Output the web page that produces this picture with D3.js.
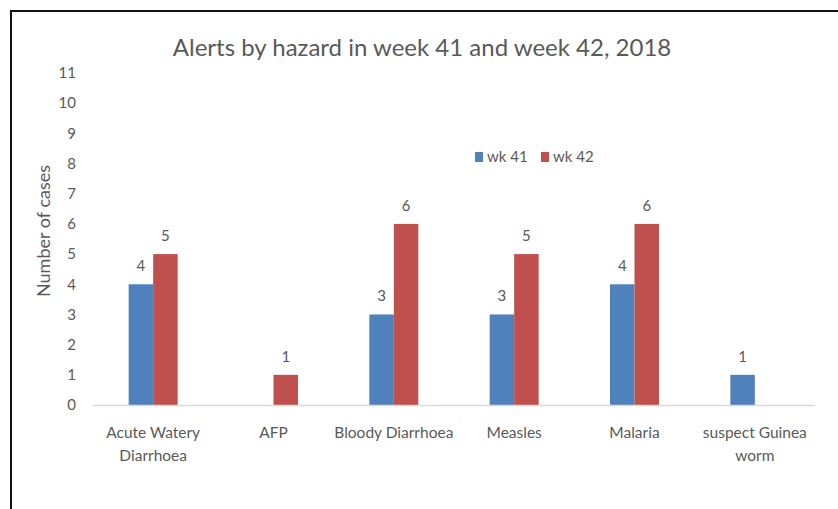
<!DOCTYPE html>
<html lang="en">

<head>
    <meta charset="UTF-8">
    <title>Alerts by hazard</title>
    <script src="https://d3js.org/d3.v7.min.js"></script>
    <style>
        body {
            margin: 0;
            background: #fff;
        }

        svg {
            display: block;
        }

        text {
            font-family: Lato, "Open Sans", sans-serif;
            fill: #595959;
        }
    </style>
</head>

<body>
    <script>
        // data
        const categories = [["Acute Watery", "Diarrhoea"], ["AFP"], ["Bloody Diarrhoea"], ["Measles"], ["Malaria"], ["suspect Guinea", "worm"]]
        const seriesNames = ["wk 41", "wk 42"]
        const wk41 = [4, 0, 3, 3, 4, 1]
        const wk42 = [5, 1, 6, 5, 6, 0]
        const yTicks = [0, 1, 2, 3, 4, 5, 6, 7, 8, 9, 10, 11]
        const colors = ["#4F81BD", "#C0504D"]

        const width = 838
        const height = 509

        let svg = d3.select("body").append("svg")
            .attr("width", width)
            .attr("height", height)

        // outer frame
        svg.append("rect")
            .attr("x", 11).attr("y", 11)
            .attr("width", width + 20).attr("height", height + 20)
            .attr("fill", "none")
            .attr("stroke", "#111")
            .attr("stroke-width", 2)

        const plot = { left: 93, right: 815, top: 73, bottom: 405 }

        let x = d3.scaleBand()
            .domain(d3.range(categories.length))
            .range([plot.left, plot.right])

        let xInner = d3.scaleBand()
            .domain(seriesNames)
            .range([0, 49])

        let y = d3.scaleLinear()
            .domain([0, 11])
            .range([plot.bottom, plot.top])

        // title
        svg.append("text")
            .attr("x", 422).attr("y", 56)
            .attr("text-anchor", "middle")
            .style("font-size", "24px")
            .text("Alerts by hazard in week 41 and week 42, 2018")

        // y axis labels (no line, no ticks)
        let yAxis = svg.append("g")
            .attr("transform", `translate(${plot.left - 17},0)`)
            .call(d3.axisLeft(y).tickValues(yTicks).tickSize(0).tickPadding(0))
        yAxis.select(".domain").remove()
        yAxis.selectAll("text")
            .style("font-size", "15px")
            .style("font-family", "Lato, sans-serif")
            .attr("fill", "#595959")

        svg.append("text")
            .attr("transform", `translate(50,231) rotate(-90)`)
            .attr("text-anchor", "middle")
            .style("font-size", "18px")
            .text("Number of cases")

        // bars
        const rows = categories.map((c, i) => ({ i, values: [wk41[i], wk42[i]] }))
        let groups = svg.selectAll(".grp")
            .data(rows)
            .enter()
            .append("g")
            .attr("transform", d => `translate(${x(d.i) + x.bandwidth() / 2 - 24.5},0)`)

        let bars = groups.selectAll("g")
            .data(d => d.values.map((v, k) => ({ v, k })).filter(e => e.v > 0))
            .enter()
            .append("g")

        bars.append("rect")
            .attr("x", d => xInner(seriesNames[d.k]))
            .attr("y", d => y(d.v))
            .attr("width", xInner.bandwidth())
            .attr("height", d => y(0) - y(d.v))
            .attr("fill", d => colors[d.k])

        bars.append("text")
            .attr("x", d => xInner(seriesNames[d.k]) + xInner.bandwidth() / 2)
            .attr("y", d => y(d.v) - 13)
            .attr("text-anchor", "middle")
            .style("font-size", "15px")
            .text(d => d.v)

        // x axis line
        svg.append("line")
            .attr("x1", plot.left).attr("x2", plot.right)
            .attr("y1", plot.bottom + 0.5).attr("y2", plot.bottom + 0.5)
            .attr("stroke", "#D9D9D9")
            .attr("stroke-width", 1.5)

        // category labels
        svg.selectAll(".cat")
            .data(categories)
            .enter()
            .append("text")
            .attr("x", (d, i) => x(i) + x.bandwidth() / 2)
            .attr("y", 438)
            .attr("text-anchor", "middle")
            .style("font-size", "15.5px")
            .selectAll("tspan")
            .data(d => d)
            .enter()
            .append("tspan")
            .attr("x", function () { return this.parentNode.getAttribute("x") })
            .attr("dy", (d, i) => i == 0 ? 0 : 23)
            .text(d => d)

        // legend
        let legend = svg.append("g").attr("transform", "translate(475,157)")
        seriesNames.forEach((s, k) => {
            let item = legend.append("g").attr("transform", `translate(${k * 66},0)`)
            item.append("rect")
                .attr("x", 0).attr("y", -5)
                .attr("width", 8).attr("height", 10)
                .attr("fill", colors[k])
            item.append("text")
                .attr("x", 12).attr("y", 5)
                .style("font-size", "15px")
                .text(s)
        })
    </script>
</body>

</html>
